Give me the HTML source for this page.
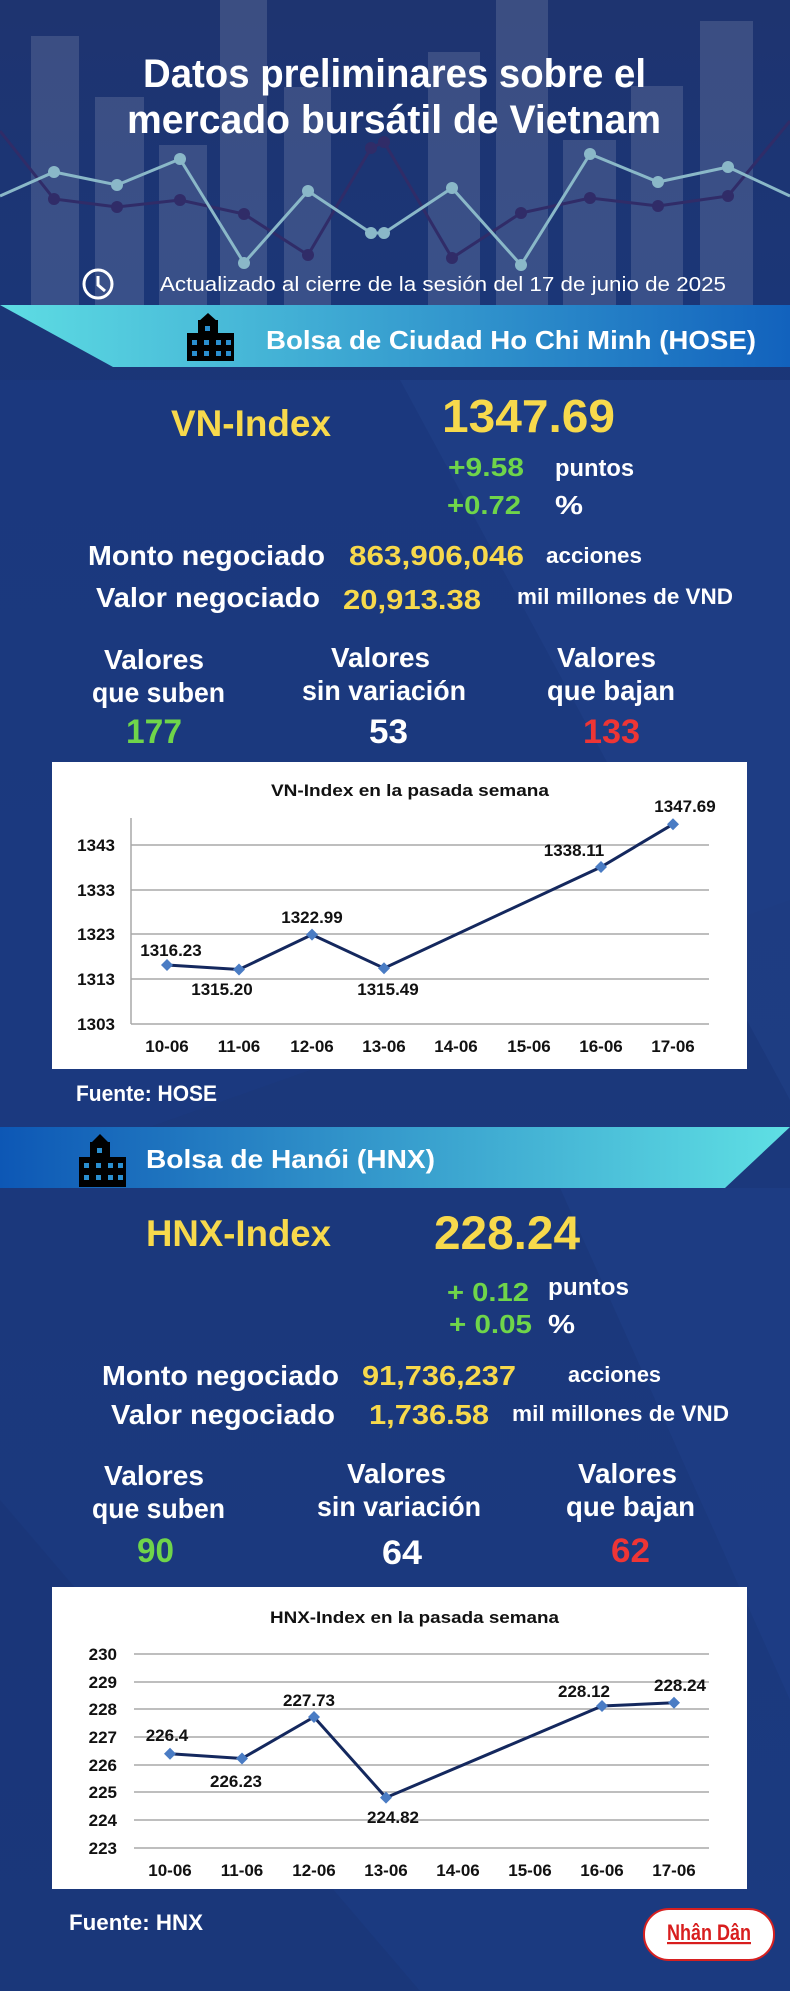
<!DOCTYPE html>
<html><head><meta charset="utf-8"><style>html,body{margin:0;padding:0;background:#1c3a80}svg{display:block}</style></head>
<body>
<svg width="790" height="1991" viewBox="0 0 790 1991" xmlns="http://www.w3.org/2000/svg" font-family="'Liberation Sans', sans-serif">
<defs>
<linearGradient id="b1" x1="0" x2="1" y1="0" y2="0"><stop offset="0" stop-color="#5edde3"/><stop offset="1" stop-color="#1262bd"/></linearGradient>
<linearGradient id="b2" x1="0" x2="1" y1="0" y2="0"><stop offset="0" stop-color="#0d57b5"/><stop offset="1" stop-color="#5fe0e4"/></linearGradient>
<linearGradient id="bg" x1="0" x2="0" y1="0" y2="1"><stop offset="0" stop-color="#1e3470"/><stop offset="0.15" stop-color="#1b3677"/><stop offset="1" stop-color="#1b3a80"/></linearGradient>
</defs>
<rect width="790" height="1991" fill="url(#bg)"/>
<polygon points="0,380 790,380 790,900 0,1180" fill="#1d3b82" opacity="0.6"/>
<polygon points="400,380 790,380 790,1100" fill="#21418a" opacity="0.5"/>
<polygon points="0,1500 0,1991 420,1991" fill="#1a3577" opacity="0.6"/>
<polygon points="560,1188 790,1188 790,1700" fill="#20408a" opacity="0.5"/>
<g fill="#ffffff" opacity="0.13">
<rect x="31" y="36" width="48" height="269"/><rect x="95" y="97" width="49" height="208"/><rect x="159" y="145" width="48" height="160"/><rect x="220" y="0" width="47" height="305"/><rect x="284" y="87" width="47" height="218"/><rect x="428" y="52" width="52" height="253"/><rect x="496" y="0" width="52" height="305"/><rect x="563" y="140" width="53" height="165"/><rect x="631" y="86" width="52" height="219"/><rect x="700" y="21" width="53" height="284"/>
</g>
<polyline points="0,131 54,199 117,207 180,200 244,214 308,255 371,148 384,142 452,258 521,213 590,198 658,206 728,196 790,121" fill="none" stroke="#302c68" stroke-width="3"/>
<g fill="#302c68"><circle cx="54" cy="199" r="6"/><circle cx="117" cy="207" r="6"/><circle cx="180" cy="200" r="6"/><circle cx="244" cy="214" r="6"/><circle cx="308" cy="255" r="6"/><circle cx="371" cy="148" r="6"/><circle cx="384" cy="142" r="6"/><circle cx="452" cy="258" r="6"/><circle cx="521" cy="213" r="6"/><circle cx="590" cy="198" r="6"/><circle cx="658" cy="206" r="6"/><circle cx="728" cy="196" r="6"/></g>
<polyline points="0,196 54,172 117,185 180,159 244,263 308,191 371,233 384,233 452,188 521,265 590,154 658,182 728,167 790,196" fill="none" stroke="#8ab8c8" stroke-width="3"/>
<g fill="#8ab8c8"><circle cx="54" cy="172" r="6"/><circle cx="117" cy="185" r="6"/><circle cx="180" cy="159" r="6"/><circle cx="244" cy="263" r="6"/><circle cx="308" cy="191" r="6"/><circle cx="371" cy="233" r="6"/><circle cx="384" cy="233" r="6"/><circle cx="452" cy="188" r="6"/><circle cx="521" cy="265" r="6"/><circle cx="590" cy="154" r="6"/><circle cx="658" cy="182" r="6"/><circle cx="728" cy="167" r="6"/></g>
<g font-weight="bold" fill="#fff" font-size="40">
<text x="143" y="87" textLength="503" lengthAdjust="spacingAndGlyphs">Datos preliminares sobre el</text>
<text x="127" y="133" textLength="534" lengthAdjust="spacingAndGlyphs">mercado bursátil de Vietnam</text>
</g>
<circle cx="98" cy="284" r="14" fill="none" stroke="#fff" stroke-width="3"/>
<polyline points="98,276 98,285 105,291" fill="none" stroke="#fff" stroke-width="3"/>
<text x="160" y="291" font-size="20" fill="#fff" textLength="566" lengthAdjust="spacingAndGlyphs">Actualizado al cierre de la sesión del 17 de junio de 2025</text>
<polygon points="0,305 790,305 790,367 113,367" fill="url(#b1)"/>
<g><rect x="187" y="333" width="47" height="28" fill="#000"/><rect x="198" y="320" width="20" height="15" fill="#000"/><polygon points="198,322 208,313 218,322" fill="#000"/>
<g fill="#2a8fd0"><rect x="192" y="340" width="5" height="5"/><rect x="204" y="340" width="5" height="5"/><rect x="216" y="340" width="5" height="5"/><rect x="226" y="340" width="5" height="5"/><rect x="192" y="351" width="5" height="5"/><rect x="204" y="351" width="5" height="5"/><rect x="216" y="351" width="5" height="5"/><rect x="226" y="351" width="5" height="5"/><rect x="205" y="326" width="5" height="5"/></g></g>
<text x="266" y="349" font-size="26" font-weight="bold" fill="#fff" textLength="490" lengthAdjust="spacingAndGlyphs">Bolsa de Ciudad Ho Chi Minh (HOSE)</text>
<g font-weight="bold">
<text x="171" y="436" font-size="37" fill="#f7d94c" textLength="160" lengthAdjust="spacingAndGlyphs">VN-Index</text>
<text x="442" y="432" font-size="46" fill="#f7d94c" textLength="173" lengthAdjust="spacingAndGlyphs">1347.69</text>
<text x="448" y="476" font-size="26" fill="#6fd54a" textLength="76" lengthAdjust="spacingAndGlyphs">+9.58</text>
<text x="447" y="514" font-size="26" fill="#6fd54a" textLength="74" lengthAdjust="spacingAndGlyphs">+0.72</text>
<text x="555" y="476" font-size="24" fill="#fff" textLength="79" lengthAdjust="spacingAndGlyphs">puntos</text>
<text x="555" y="514" font-size="26" fill="#fff" textLength="28" lengthAdjust="spacingAndGlyphs">%</text>
<text x="88" y="565" font-size="28" fill="#fff" textLength="237" lengthAdjust="spacingAndGlyphs">Monto negociado</text>
<text x="349" y="565" font-size="28" fill="#f7d94c" textLength="175" lengthAdjust="spacingAndGlyphs">863,906,046</text>
<text x="96" y="607" font-size="28" fill="#fff" textLength="224" lengthAdjust="spacingAndGlyphs">Valor negociado</text>
<text x="343" y="609" font-size="28" fill="#f7d94c" textLength="138" lengthAdjust="spacingAndGlyphs">20,913.38</text>
</g>
<g fill="#fff" font-size="22" font-weight="bold">
<text x="546" y="563" textLength="96" lengthAdjust="spacingAndGlyphs">acciones</text>
<text x="517" y="604" textLength="216" lengthAdjust="spacingAndGlyphs">mil millones de VND</text>
</g>
<g font-weight="bold" font-size="28" fill="#fff">
<text x="104" y="669" textLength="100" lengthAdjust="spacingAndGlyphs">Valores</text>
<text x="92" y="702" textLength="133" lengthAdjust="spacingAndGlyphs">que suben</text>
<text x="331" y="667" textLength="99" lengthAdjust="spacingAndGlyphs">Valores</text>
<text x="302" y="700" textLength="164" lengthAdjust="spacingAndGlyphs">sin variación</text>
<text x="557" y="667" textLength="99" lengthAdjust="spacingAndGlyphs">Valores</text>
<text x="547" y="700" textLength="128" lengthAdjust="spacingAndGlyphs">que bajan</text>
<text x="126" y="743" font-size="34" fill="#6fd54a" textLength="56" lengthAdjust="spacingAndGlyphs">177</text>
<text x="369" y="743" font-size="34" textLength="39" lengthAdjust="spacingAndGlyphs">53</text>
<text x="583" y="743" font-size="34" fill="#ee3535" textLength="57" lengthAdjust="spacingAndGlyphs">133</text>
</g>
<rect x="52" y="762" width="695" height="307" fill="#fff"/>
<g font-weight="bold" fill="#111">
<text x="271" y="796" font-size="17" textLength="278" lengthAdjust="spacingAndGlyphs">VN-Index en la pasada semana</text>
<g stroke="#a8a8a8" stroke-width="1.5"><line x1="131" y1="845" x2="709" y2="845"/><line x1="131" y1="890" x2="709" y2="890"/><line x1="131" y1="934" x2="709" y2="934"/><line x1="131" y1="979" x2="709" y2="979"/><line x1="131" y1="1024" x2="709" y2="1024"/><line x1="131" y1="818" x2="131" y2="1024"/></g>
<g font-size="17" text-anchor="end"><text x="115" y="851">1343</text><text x="115" y="896">1333</text><text x="115" y="940">1323</text><text x="115" y="985">1313</text><text x="115" y="1030">1303</text></g>
<g font-size="17" text-anchor="middle"><text x="167" y="1052">10-06</text><text x="239" y="1052">11-06</text><text x="312" y="1052">12-06</text><text x="384" y="1052">13-06</text><text x="456" y="1052">14-06</text><text x="529" y="1052">15-06</text><text x="601" y="1052">16-06</text><text x="673" y="1052">17-06</text></g>
<polyline points="167,965 239,969.5 312,934.6 384,968.2 601,867 673,824.2" fill="none" stroke="#14285e" stroke-width="3"/>
<g fill="#4a7cc4"><path d="M167,959 l6,6 -6,6 -6,-6z"/><path d="M239,963.5 l6,6 -6,6 -6,-6z"/><path d="M312,928.6 l6,6 -6,6 -6,-6z"/><path d="M384,962.2 l6,6 -6,6 -6,-6z"/><path d="M601,861 l6,6 -6,6 -6,-6z"/><path d="M673,818.2 l6,6 -6,6 -6,-6z"/></g>
<g font-size="17" text-anchor="middle"><text x="171" y="956">1316.23</text><text x="222" y="995">1315.20</text><text x="312" y="923">1322.99</text><text x="388" y="995">1315.49</text><text x="574" y="856">1338.11</text><text x="685" y="812">1347.69</text></g>
</g>
<text x="76" y="1101" font-size="22" font-weight="bold" fill="#fff" textLength="141" lengthAdjust="spacingAndGlyphs">Fuente: HOSE</text>
<polygon points="0,1127 790,1127 725,1188 0,1188" fill="url(#b2)"/>
<g><rect x="79" y="1157" width="47" height="30" fill="#000"/><rect x="90" y="1142" width="20" height="17" fill="#000"/><polygon points="90,1144 100,1134 110,1144" fill="#000"/>
<g fill="#2a8fd0"><rect x="84" y="1163" width="5" height="5"/><rect x="96" y="1163" width="5" height="5"/><rect x="108" y="1163" width="5" height="5"/><rect x="118" y="1163" width="5" height="5"/><rect x="84" y="1175" width="5" height="5"/><rect x="96" y="1175" width="5" height="5"/><rect x="108" y="1175" width="5" height="5"/><rect x="118" y="1175" width="5" height="5"/><rect x="97" y="1148" width="5" height="5"/></g></g>
<text x="146" y="1168" font-size="26" font-weight="bold" fill="#fff" textLength="289" lengthAdjust="spacingAndGlyphs">Bolsa de Hanói (HNX)</text>
<g font-weight="bold">
<text x="146" y="1246" font-size="37" fill="#f7d94c" textLength="185" lengthAdjust="spacingAndGlyphs">HNX-Index</text>
<text x="434" y="1249" font-size="47" fill="#f7d94c" textLength="146" lengthAdjust="spacingAndGlyphs">228.24</text>
<text x="447" y="1301" font-size="26" fill="#6fd54a" textLength="82" lengthAdjust="spacingAndGlyphs">+ 0.12</text>
<text x="449" y="1333" font-size="26" fill="#6fd54a" textLength="83" lengthAdjust="spacingAndGlyphs">+ 0.05</text>
<text x="548" y="1295" font-size="24" fill="#fff" textLength="81" lengthAdjust="spacingAndGlyphs">puntos</text>
<text x="548" y="1333" font-size="26" fill="#fff" textLength="27" lengthAdjust="spacingAndGlyphs">%</text>
<text x="102" y="1385" font-size="28" fill="#fff" textLength="237" lengthAdjust="spacingAndGlyphs">Monto negociado</text>
<text x="362" y="1385" font-size="28" fill="#f7d94c" textLength="154" lengthAdjust="spacingAndGlyphs">91,736,237</text>
<text x="111" y="1424" font-size="28" fill="#fff" textLength="224" lengthAdjust="spacingAndGlyphs">Valor negociado</text>
<text x="369" y="1424" font-size="28" fill="#f7d94c" textLength="120" lengthAdjust="spacingAndGlyphs">1,736.58</text>
</g>
<g fill="#fff" font-size="22" font-weight="bold">
<text x="568" y="1382" textLength="93" lengthAdjust="spacingAndGlyphs">acciones</text>
<text x="512" y="1421" textLength="217" lengthAdjust="spacingAndGlyphs">mil millones de VND</text>
</g>
<g font-weight="bold" font-size="28" fill="#fff">
<text x="104" y="1485" textLength="100" lengthAdjust="spacingAndGlyphs">Valores</text>
<text x="92" y="1518" textLength="133" lengthAdjust="spacingAndGlyphs">que suben</text>
<text x="347" y="1483" textLength="99" lengthAdjust="spacingAndGlyphs">Valores</text>
<text x="317" y="1516" textLength="164" lengthAdjust="spacingAndGlyphs">sin variación</text>
<text x="578" y="1483" textLength="99" lengthAdjust="spacingAndGlyphs">Valores</text>
<text x="566" y="1516" textLength="129" lengthAdjust="spacingAndGlyphs">que bajan</text>
<text x="137" y="1562" font-size="34" fill="#6fd54a" textLength="37" lengthAdjust="spacingAndGlyphs">90</text>
<text x="382" y="1564" font-size="34" textLength="40" lengthAdjust="spacingAndGlyphs">64</text>
<text x="611" y="1562" font-size="34" fill="#ee3535" textLength="39" lengthAdjust="spacingAndGlyphs">62</text>
</g>
<rect x="52" y="1587" width="695" height="302" fill="#fff"/>
<g font-weight="bold" fill="#111">
<text x="270" y="1623" font-size="17" textLength="289" lengthAdjust="spacingAndGlyphs">HNX-Index en la pasada semana</text>
<g stroke="#a8a8a8" stroke-width="1.5"><line x1="134" y1="1654" x2="709" y2="1654"/><line x1="134" y1="1682" x2="709" y2="1682"/><line x1="134" y1="1709" x2="709" y2="1709"/><line x1="134" y1="1737" x2="709" y2="1737"/><line x1="134" y1="1765" x2="709" y2="1765"/><line x1="134" y1="1792" x2="709" y2="1792"/><line x1="134" y1="1820" x2="709" y2="1820"/><line x1="134" y1="1848" x2="709" y2="1848"/></g>
<g font-size="17" text-anchor="end"><text x="117" y="1660">230</text><text x="117" y="1688">229</text><text x="117" y="1715">228</text><text x="117" y="1743">227</text><text x="117" y="1771">226</text><text x="117" y="1798">225</text><text x="117" y="1826">224</text><text x="117" y="1854">223</text></g>
<g font-size="17" text-anchor="middle"><text x="170" y="1876">10-06</text><text x="242" y="1876">11-06</text><text x="314" y="1876">12-06</text><text x="386" y="1876">13-06</text><text x="458" y="1876">14-06</text><text x="530" y="1876">15-06</text><text x="602" y="1876">16-06</text><text x="674" y="1876">17-06</text></g>
<polyline points="170,1753.8 242,1758.5 314,1717 386,1797.6 602,1706 674,1702.8" fill="none" stroke="#14285e" stroke-width="3"/>
<g fill="#4a7cc4"><path d="M170,1747.8 l6,6 -6,6 -6,-6z"/><path d="M242,1752.5 l6,6 -6,6 -6,-6z"/><path d="M314,1711 l6,6 -6,6 -6,-6z"/><path d="M386,1791.6 l6,6 -6,6 -6,-6z"/><path d="M602,1700 l6,6 -6,6 -6,-6z"/><path d="M674,1696.8 l6,6 -6,6 -6,-6z"/></g>
<g font-size="17" text-anchor="middle"><text x="167" y="1741">226.4</text><text x="236" y="1787">226.23</text><text x="309" y="1706">227.73</text><text x="393" y="1823">224.82</text><text x="584" y="1697">228.12</text><text x="680" y="1691">228.24</text></g>
</g>
<text x="69" y="1930" font-size="22" font-weight="bold" fill="#fff" textLength="134" lengthAdjust="spacingAndGlyphs">Fuente:  HNX</text>
<rect x="644" y="1909" width="130" height="51" rx="25" fill="#fff" stroke="#d62020" stroke-width="2"/>
<text x="667" y="1940" font-size="22" font-weight="bold" fill="#d81e1e" text-decoration="underline" textLength="84" lengthAdjust="spacingAndGlyphs">Nhân Dân</text>
</svg>
</body></html>
